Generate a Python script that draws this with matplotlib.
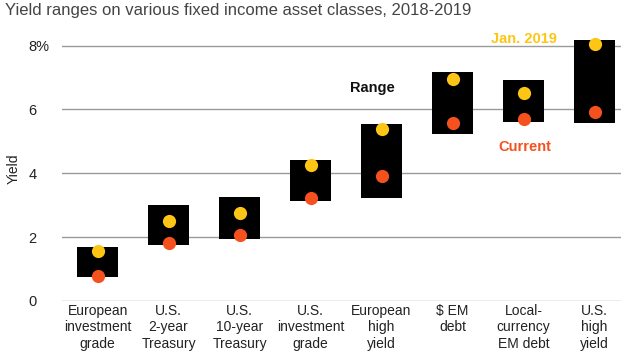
import matplotlib
matplotlib.use("Agg")
import matplotlib.pyplot as plt
import numpy as np

plt.rcParams["font.family"] = ["Liberation Sans", "DejaVu Sans"]

# data (yield, %)
categories = ["European\ninvestment\ngrade", "U.S.\n2-year\nTreasury", "U.S.\n10-year\nTreasury",
              "U.S.\ninvestment\ngrade", "European\nhigh\nyield", "\\$ EM\ndebt",
              "Local-\ncurrency\nEM debt", "U.S.\nhigh\nyield"]
range_low = [0.76, 1.75, 1.95, 3.13, 3.22, 5.24, 5.61, 5.57]
range_high = [1.70, 3.00, 3.25, 4.40, 5.54, 7.17, 6.92, 8.18]
jan_2019 = [1.58, 2.52, 2.75, 4.25, 5.40, 6.95, 6.53, 8.04]
current = [0.78, 1.83, 2.07, 3.24, 3.90, 5.59, 5.70, 5.93]
yticks = [0, 2, 4, 6, 8]
ytick_labels = ["0", "2", "4", "6", "8%"]

COL_YEL = "#FDC514"
COL_RED = "#F4511E"
COL_GRID = "#9a9a9a"
COL_TEXT = "#222222"

fig = plt.figure(figsize=(6.4, 3.6), dpi=100, facecolor="white")
ax = fig.add_axes([0.097, 0.164, 0.873, 0.736])

x = np.arange(len(categories))
lo = np.array(range_low); hi = np.array(range_high)
ax.bar(x, hi - lo, bottom=lo, width=0.58, color="black", zorder=2)
ax.plot(x, jan_2019, "o", ms=9.5, color=COL_YEL, mec="none", zorder=3)
ax.plot(x, current, "o", ms=9.5, color=COL_RED, mec="none", zorder=3)

ax.set_xlim(-0.5, 7.37)
ax.set_ylim(0, 8.3)
ax.set_yticks(yticks)
ax.set_yticklabels(ytick_labels, ha="left")
ax.tick_params(axis="y", length=0, pad=24, labelsize=10.5, labelcolor=COL_TEXT)
ax.set_xticks(x)
ax.set_xticklabels(categories, fontsize=10, color=COL_TEXT, linespacing=1.25)
ax.tick_params(axis="x", length=0, pad=2)
ax.yaxis.grid(True, color=COL_GRID, linewidth=1.0, zorder=0)
ax.set_axisbelow(True)
for s in ax.spines.values():
    s.set_visible(False)

ax.set_ylabel("Yield", fontsize=10, color=COL_TEXT)
ax.yaxis.set_label_coords(-0.075, 0.5)

ax.text(524 / 640, 1 - 39 / 360, "Jan. 2019", transform=fig.transFigure, ha="center", va="center",
        fontsize=10.5, fontweight="bold", color=COL_YEL)
ax.text(372 / 640, 1 - 88 / 360, "Range", transform=fig.transFigure, ha="center", va="center",
        fontsize=10.5, fontweight="bold", color="#111111")
ax.text(525 / 640, 1 - 147 / 360, "Current", transform=fig.transFigure, ha="center", va="center",
        fontsize=10.5, fontweight="bold", color=COL_RED)

fig.text(5 / 640, 1 - 11 / 360, "Yield ranges on various fixed income asset classes, 2018-2019",
         ha="left", va="center", fontsize=12, color="#444444")

fig.savefig("out.png", dpi=100, facecolor="white")
